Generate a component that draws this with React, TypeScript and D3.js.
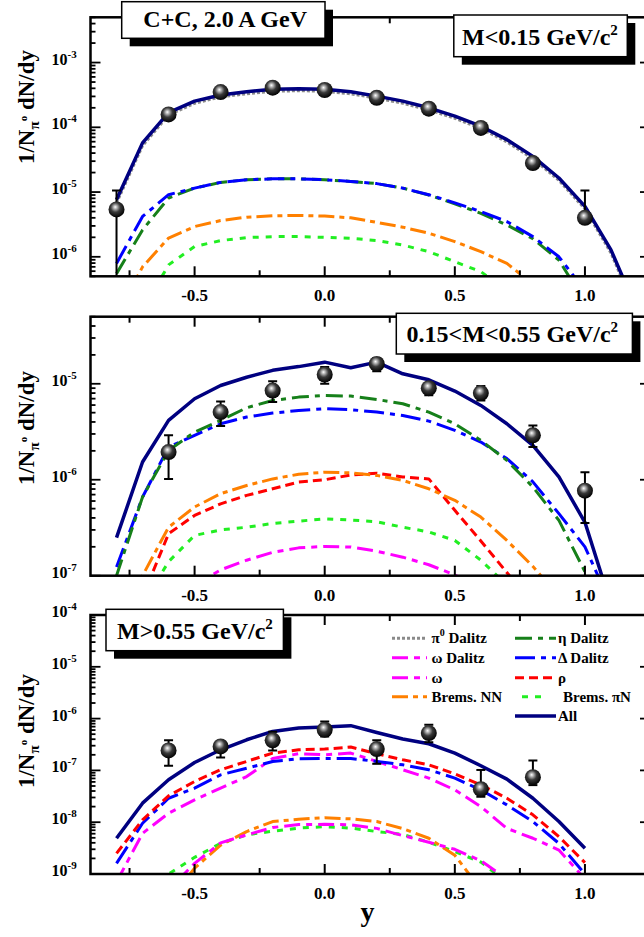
import React from 'react';
import * as d3 from 'd3';

const FONT = '"Liberation Serif","Times New Roman",Times,serif';

// rapidity grid for model curves
const yGrid = [-0.8, -0.7, -0.6, -0.5, -0.4, -0.3, -0.2, -0.1, 0.0, 0.1, 0.2, 0.3, 0.4, 0.5, 0.6, 0.7, 0.8, 0.9, 1.0, 1.1, 1.2];

// ---------- panel 1: M < 0.15 ----------
const p1All = [7.6e-6, 5.75e-5, 1.68e-4, 2.54e-4, 3.16e-4, 3.55e-4, 3.86e-4, 3.95e-4, 3.86e-4, 3.55e-4, 3.03e-4, 2.54e-4, 2.0e-4, 1.49e-4, 1.04e-4, 6.45e-5, 3.56e-5, 1.65e-5, 6.0e-6, 1.28e-6, 1.5e-7];
const p1Pi0 = [6.8e-6, 5.2e-5, 1.55e-4, 2.35e-4, 2.95e-4, 3.3e-4, 3.6e-4, 3.68e-4, 3.6e-4, 3.3e-4, 2.82e-4, 2.36e-4, 1.86e-4, 1.38e-4, 9.6e-5, 5.95e-5, 3.28e-5, 1.52e-5, 5.5e-6, 1.15e-6, 1.3e-7];
const p1Delta = [7.9e-7, 4.2e-6, 9.1e-6, 1.15e-5, 1.41e-5, 1.55e-5, 1.6e-5, 1.6e-5, 1.55e-5, 1.46e-5, 1.35e-5, 1.15e-5, 9.1e-6, 6.8e-6, 5.0e-6, 3.5e-6, 2.05e-6, 1.0e-6, 3.0e-7, null, null];
const p1Eta = [5.5e-7, 2.6e-6, 8.1e-6, 1.15e-5, 1.41e-5, 1.55e-5, 1.6e-5, 1.6e-5, 1.55e-5, 1.46e-5, 1.35e-5, 1.15e-5, 9.0e-6, 6.6e-6, 4.7e-6, 3.1e-6, 1.9e-6, 8.9e-7, 2.0e-7, null, null];
const p1BremsNN = [1.2e-7, 7.0e-7, 1.95e-6, 2.93e-6, 3.63e-6, 4.1e-6, 4.3e-6, 4.35e-6, 4.25e-6, 4.0e-6, 3.4e-6, 2.87e-6, 2.31e-6, 1.72e-6, 1.2e-6, 7.9e-7, 3.8e-7, null, null, null, null];
const p1BremsPiN = [null, 1.5e-7, 7.5e-7, 1.44e-6, 1.78e-6, 1.98e-6, 2.05e-6, 2.05e-6, 2.0e-6, 1.93e-6, 1.78e-6, 1.52e-6, 1.2e-6, 8.4e-7, 5.9e-7, 3.0e-7, null, null, null, null, null];
const p1DataY = [-0.8, -0.6, -0.4, -0.2, 0.0, 0.2, 0.4, 0.6, 0.8, 1.0];
const p1DataV = [5.4e-6, 1.58e-4, 3.5e-4, 4.1e-4, 3.77e-4, 2.86e-4, 1.94e-4, 9.8e-5, 2.8e-5, 4.0e-6];
const p1DataHi = [1.06e-5, 1.7e-4, 3.7e-4, 4.3e-4, 3.95e-4, 3.0e-4, 2.05e-4, 1.04e-4, 3.0e-5, 1.06e-5];
const p1DataLo = [1.0e-8, 1.48e-4, 3.3e-4, 3.9e-4, 3.6e-4, 2.72e-4, 1.84e-4, 9.2e-5, 2.6e-5, 3.6e-6];

// ---------- panel 2: 0.15 < M < 0.55 ----------
const p2All = [2.49e-7, 1.53e-6, 4.15e-6, 6.98e-6, 9.6e-6, 1.17e-5, 1.38e-5, 1.51e-5, 1.68e-5, 1.47e-5, 1.68e-5, 1.27e-5, 1.1e-5, 8.4e-6, 5.95e-6, 3.83e-6, 2.28e-6, 1.07e-6, 3.6e-7, 5.0e-8, null];
const p2Eta = [1.0e-7, 6.6e-7, 2.02e-6, 3.14e-6, 4.15e-6, 5.62e-6, 6.7e-6, 7.26e-6, 7.55e-6, 7.44e-6, 6.87e-6, 6.2e-6, 5.07e-6, 3.83e-6, 2.57e-6, 1.59e-6, 8.4e-7, 3.77e-7, 1.1e-7, 3.0e-8, null];
const p2Delta = [1.23e-7, 6.6e-7, 2.19e-6, 2.9e-6, 3.83e-6, 4.5e-6, 4.95e-6, 5.27e-6, 5.5e-6, 5.37e-6, 5.07e-6, 4.68e-6, 4.08e-6, 3.27e-6, 2.47e-6, 1.66e-6, 9.5e-7, 4.43e-7, 2.0e-7, 5.0e-8, null];
const p2BremsNN = [3.0e-8, 1.0e-7, 3.2e-7, 5.2e-7, 7.15e-7, 8.7e-7, 1.02e-6, 1.14e-6, 1.2e-6, 1.18e-6, 1.11e-6, 9.85e-7, 8.05e-7, 6.1e-7, 4.08e-7, 2.33e-7, 1.25e-7, 6.0e-8, null, null, null];
const p2Rho = [null, 6.0e-8, 2.74e-7, 4.25e-7, 5.6e-7, 6.87e-7, 8.05e-7, 9.45e-7, 1.0e-6, 1.12e-6, 1.17e-6, 1.07e-6, 1.02e-6, 4.8e-7, 2.3e-7, 1.08e-7, 5.0e-8, null, null, null, null];
const p2BremsPiN = [null, 5.0e-8, 1.4e-7, 2.63e-7, 3.0e-7, 3.2e-7, 3.5e-7, 3.7e-7, 3.92e-7, 3.8e-7, 3.65e-7, 3.2e-7, 2.86e-7, 2.33e-7, 1.45e-7, 8.0e-8, null, null, null, null, null];
const p2OmegaDal = [null, null, null, 8.0e-8, 1.15e-7, 1.45e-7, 1.75e-7, 1.95e-7, 2.02e-7, 1.99e-7, 1.8e-7, 1.56e-7, 1.3e-7, 1.02e-7, 7.0e-8, null, null, null, null, null, null];
const p2DataY = [-0.6, -0.4, -0.2, 0.0, 0.2, 0.4, 0.6, 0.8, 1.0];
const p2DataV = [1.94e-6, 5.07e-6, 8.5e-6, 1.25e-5, 1.61e-5, 9.0e-6, 8.0e-6, 2.9e-6, 7.7e-7];
const p2DataHi = [2.9e-6, 6.55e-6, 1.06e-5, 1.5e-5, 1.86e-5, 1.0e-5, 9.5e-6, 3.68e-6, 1.2e-6];
const p2DataLo = [1.02e-6, 3.62e-6, 6.44e-6, 1.0e-5, 1.35e-5, 7.6e-6, 6.7e-6, 2.2e-6, 3.55e-7];

// ---------- panel 3: M > 0.55 ----------
const p3All = [4.9e-9, 2.33e-8, 6.58e-8, 1.42e-7, 2.5e-7, 3.9e-7, 5.66e-7, 6.57e-7, 6.88e-7, 7.3e-7, 5.4e-7, 4.03e-7, 3.27e-7, 2.16e-7, 1.23e-7, 6.77e-8, 2.9e-8, 1.03e-8, 3.15e-9, null, null];
const p3Rho = [2.5e-9, 1.11e-8, 3.23e-8, 6.1e-8, 1.03e-7, 1.49e-7, 2.16e-7, 2.5e-7, 2.58e-7, 2.82e-7, 2.1e-7, 1.6e-7, 1.28e-7, 8.6e-8, 5.26e-8, 2.9e-8, 1.39e-8, 5.27e-9, 1.66e-9, null, null];
const p3Delta = [1.6e-9, 9.55e-9, 2.9e-8, 4.54e-8, 8.2e-8, 1.1e-7, 1.49e-7, 1.67e-7, 1.7e-7, 1.7e-7, 1.49e-7, 1.28e-7, 1.03e-7, 7.1e-8, 4.2e-8, 2.16e-8, 1.03e-8, 3.9e-9, 1.0e-9, null, null];
const p3Omega = [7.0e-10, 6.1e-9, 1.49e-8, 2.7e-8, 4.54e-8, 7.6e-8, 1.7e-7, 2.1e-7, 2.0e-7, 2.16e-7, 1.49e-7, 1.03e-7, 7.1e-8, 4.2e-8, 2.0e-8, 7.6e-9, 4.9e-9, 2.9e-9, 8.0e-10, null, null];
const p3OmegaDal = [null, null, 5.0e-10, 1.6e-9, 4.0e-9, 5.7e-9, 7.9e-9, 9.0e-9, 9.1e-9, 8.9e-9, 7.6e-9, 5.5e-9, 4.1e-9, 3.0e-9, 1.8e-9, 8.0e-10, null, null, null, null, null];
const p3BremsNN = [null, null, 3.0e-10, 1.3e-9, 3.6e-9, 6.6e-9, 1.03e-8, 1.14e-8, 1.22e-8, 1.16e-8, 1.03e-8, 7.5e-9, 4.9e-9, 2.3e-9, 5.0e-10, null, null, null, null, null, null];
const p3BremsPiN = [null, 3.0e-10, 1.0e-9, 2.1e-9, 3.9e-9, 5.7e-9, 6.7e-9, 7.7e-9, 8.2e-9, 7.7e-9, 6.6e-9, 5.8e-9, 4.1e-9, 2.7e-9, 1.7e-9, 7.0e-10, null, null, null, null, null];
const p3DataY = [-0.6, -0.4, -0.2, 0.0, 0.2, 0.4, 0.6, 0.8];
const p3DataV = [2.43e-7, 2.9e-7, 3.8e-7, 6.1e-7, 2.58e-7, 5.26e-7, 4.35e-8, 7.4e-8];
const p3DataHi = [3.8e-7, 3.7e-7, 5.6e-7, 8.8e-7, 3.8e-7, 7.6e-7, 1.02e-7, 1.55e-7];
const p3DataLo = [1.23e-7, 1.78e-7, 2.43e-7, 4.5e-7, 1.34e-7, 3.5e-7, 3.1e-8, 5.2e-8];

// axis ticks
const xTickValues = [-0.75, -0.5, -0.25, 0.0, 0.25, 0.5, 0.75, 1.0];
const xTickLabels = ['-0.5', '0.0', '0.5', '1.0'];
const xLabelValues = [-0.5, 0.0, 0.5, 1.0];
const p1Decades = [-6, -5, -4, -3];
const p2Decades = [-7, -6, -5];
const p3Decades = [-9, -8, -7, -6, -5, -4];

const STYLES: Record<string, { color: string; dash: string | null; width: number }> = {
  pi0: { color: '#8a8a8a', dash: '3 2', width: 3 },
  eta: { color: '#16801a', dash: '17 6 5 6', width: 3 },
  omegaDal: { color: '#ff00ff', dash: '16 6 6 6', width: 3 },
  delta: { color: '#0000ff', dash: '20 6 5 6', width: 3 },
  omega: { color: '#ff00ff', dash: '16 6 6 6', width: 3 },
  rho: { color: '#ff0000', dash: '9 5', width: 3 },
  bremsNN: { color: '#ff8000', dash: '16 5 5 5', width: 3 },
  bremsPiN: { color: '#22ee22', dash: '6 7', width: 3 },
  all: { color: '#000080', dash: null, width: 3.5 },
};

const X0 = 90.5;
const X1 = 650;
const H = 259;

type SeriesDef = { key: string; values: (number | null)[] };
type PanelDef = {
  id: string;
  top: number;
  domain: [number, number];
  decades: number[];
  series: SeriesDef[];
  dataY: number[];
  dataV: number[];
  dataHi: number[];
  dataLo: number[];
  labelCy: number;
};

const panels: PanelDef[] = [
  {
    id: 'p1', top: 17.3, domain: [5e-7, 5e-3], decades: p1Decades, labelCy: 107,
    series: [
      { key: 'bremsPiN', values: p1BremsPiN },
      { key: 'bremsNN', values: p1BremsNN },
      { key: 'eta', values: p1Eta },
      { key: 'delta', values: p1Delta },
      { key: 'pi0', values: p1Pi0 },
      { key: 'all', values: p1All },
    ],
    dataY: p1DataY, dataV: p1DataV, dataHi: p1DataHi, dataLo: p1DataLo,
  },
  {
    id: 'p2', top: 316.7, domain: [1e-7, 5e-5], decades: p2Decades, labelCy: 428,
    series: [
      { key: 'omegaDal', values: p2OmegaDal },
      { key: 'bremsPiN', values: p2BremsPiN },
      { key: 'rho', values: p2Rho },
      { key: 'bremsNN', values: p2BremsNN },
      { key: 'delta', values: p2Delta },
      { key: 'eta', values: p2Eta },
      { key: 'all', values: p2All },
    ],
    dataY: p2DataY, dataV: p2DataV, dataHi: p2DataHi, dataLo: p2DataLo,
  },
  {
    id: 'p3', top: 615, domain: [1e-9, 1e-4], decades: p3Decades, labelCy: 731,
    series: [
      { key: 'bremsPiN', values: p3BremsPiN },
      { key: 'bremsNN', values: p3BremsNN },
      { key: 'omegaDal', values: p3OmegaDal },
      { key: 'omega', values: p3Omega },
      { key: 'delta', values: p3Delta },
      { key: 'rho', values: p3Rho },
      { key: 'all', values: p3All },
    ],
    dataY: p3DataY, dataV: p3DataV, dataHi: p3DataHi, dataLo: p3DataLo,
  },
];

const xScale = d3.scaleLinear().domain([-0.9, 1.25]).range([X0, X1]);

function Panel({ p }: { p: PanelDef }) {
  const y = d3.scaleLog().domain(p.domain).range([p.top + H, p.top]);
  const bottom = p.top + H;
  const line = d3
    .line<[number, number | null]>()
    .defined((d) => d[1] != null)
    .x((d) => xScale(d[0]))
    .y((d) => y(d[1] as number));

  const minorTicks: number[] = [];
  const lo = Math.floor(Math.log10(p.domain[0]));
  const hi = Math.ceil(Math.log10(p.domain[1]));
  for (let e = lo; e <= hi; e++) {
    for (let k = 1; k <= 9; k++) {
      const v = k * Math.pow(10, e);
      if (v >= p.domain[0] * 0.999 && v <= p.domain[1] * 1.001) minorTicks.push(v);
    }
  }

  return (
    <g>
      <defs>
        <clipPath id={`clip-${p.id}`}>
          <rect x={X0} y={p.top} width={X1 - X0} height={H} />
        </clipPath>
      </defs>
      <g clipPath={`url(#clip-${p.id})`}>
        {p.series.map((s) => {
          const st = STYLES[s.key];
          const pts = yGrid.map((g, i) => [g, s.values[i]] as [number, number | null]);
          return (
            <path
              key={s.key}
              d={line(pts) || ''}
              fill="none"
              stroke={st.color}
              strokeWidth={st.width}
              strokeDasharray={st.dash || undefined}
              strokeLinejoin="round"
            />
          );
        })}
        {p.dataY.map((g, i) => {
          const cx = xScale(g);
          return (
            <g key={i}>
              <line x1={cx} x2={cx} y1={y(p.dataHi[i])} y2={y(p.dataLo[i])} stroke="#000" strokeWidth={2} />
              <line x1={cx - 4.5} x2={cx + 4.5} y1={y(p.dataHi[i])} y2={y(p.dataHi[i])} stroke="#000" strokeWidth={2} />
              <line x1={cx - 4.5} x2={cx + 4.5} y1={y(p.dataLo[i])} y2={y(p.dataLo[i])} stroke="#000" strokeWidth={2} />
              <circle cx={cx} cy={y(p.dataV[i])} r={8} fill="url(#ball)" />
            </g>
          );
        })}
      </g>
      {/* frame */}
      <rect x={X0} y={p.top} width={X1 - X0} height={H} fill="none" stroke="#000" strokeWidth={2.5} />
      {/* x ticks */}
      {xTickValues.map((t) => {
        const major = Math.abs(t * 2 - Math.round(t * 2)) < 1e-6;
        const len = major ? 10 : 6;
        const xx = xScale(t);
        return (
          <g key={t}>
            <line x1={xx} x2={xx} y1={bottom} y2={bottom - len} stroke="#000" strokeWidth={2} />
            <line x1={xx} x2={xx} y1={p.top} y2={p.top + len} stroke="#000" strokeWidth={2} />
          </g>
        );
      })}
      {xLabelValues.map((t, i) => (
        <text key={t} x={xScale(t)} y={bottom + 25} textAnchor="middle" fontFamily={FONT} fontWeight="bold" fontSize={17}>
          {xTickLabels[i]}
        </text>
      ))}
      {/* y ticks */}
      {minorTicks.map((v, i) => {
        const isMajor = Math.abs(Math.log10(v) - Math.round(Math.log10(v))) < 1e-6;
        const yy = y(v);
        return (
          <g key={i}>
            <line x1={X0} x2={X0 + (isMajor ? 10 : 5)} y1={yy} y2={yy} stroke="#000" strokeWidth={1.8} />
            {isMajor && <line x1={X1} x2={X1 - 10} y1={yy} y2={yy} stroke="#000" strokeWidth={1.8} />}
          </g>
        );
      })}
      {p.decades.map((e) => (
        <text key={e} x={51.5} y={y(Math.pow(10, e)) + 2} fontFamily={FONT} fontWeight="bold" fontSize={16}>
          10
          <tspan fontSize={11} dy={-7}>{String(e)}</tspan>
        </text>
      ))}
      {/* y axis title */}
      <text
        transform={`translate(33.5,${p.labelCy}) rotate(-90)`}
        textAnchor="middle"
        fontFamily={FONT}
        fontWeight="bold"
        fontSize={23}
      >
        1/N
        <tspan fontSize={15} dy={5}>π</tspan>
        <tspan fontSize={11} dy={-12}>o</tspan>
        <tspan fontSize={23} dy={7}> dN/dy</tspan>
      </text>
    </g>
  );
}

function Box({ x, y, w, h, tx, ty, children }: any) {
  return (
    <g>
      <rect x={x + 8} y={y + 8} width={w} height={h} fill="#000" />
      <rect x={x} y={y} width={w} height={h} fill="#fff" stroke="#000" strokeWidth={1.5} />
      <text x={tx} y={ty} fontFamily={FONT} fontWeight="bold" fontSize={24}>
        {children}
      </text>
    </g>
  );
}

const legendItems = [
  { key: 'pi0', label: 'pi0', col: 0, row: 0 },
  { key: 'eta', label: 'η Dalitz', col: 1, row: 0 },
  { key: 'omegaDal', label: 'ω Dalitz', col: 0, row: 1 },
  { key: 'delta', label: 'Δ Dalitz', col: 1, row: 1 },
  { key: 'omega', label: 'ω', col: 0, row: 2 },
  { key: 'rho', label: 'ρ', col: 1, row: 2 },
  { key: 'bremsNN', label: 'Brems. NN', col: 0, row: 3 },
  { key: 'bremsPiN', label: 'Brems. πN', col: 1, row: 3 },
  { key: 'all', label: 'All', col: 1, row: 4 },
];
const legendRowY = [638.3, 657.7, 677.7, 696.7, 716];

function Legend() {
  return (
    <g>
      {legendItems.map((it) => {
        const st = STYLES[it.key];
        const yy = legendRowY[it.row];
        const lx1 = it.col === 0 ? 392 : it.key === 'bremsPiN' ? 522 : 515;
        const lx2 = it.col === 0 ? 427 : it.key === 'bremsPiN' ? 547 : 556;
        const tx = it.col === 0 ? 431.5 : it.key === 'bremsPiN' ? 563 : 558;
        return (
          <g key={it.key}>
            <line x1={lx1} x2={lx2} y1={yy} y2={yy} stroke={st.color} strokeWidth={st.width} strokeDasharray={st.dash || undefined} />
            <text x={tx} y={yy + 5} fontFamily={FONT} fontWeight="bold" fontSize={15}>
              {it.label === 'pi0' ? (
                <>
                  π<tspan fontSize={10} dy={-7}>0</tspan>
                  <tspan dy={7}> Dalitz</tspan>
                </>
              ) : (
                it.label
              )}
            </text>
          </g>
        );
      })}
    </g>
  );
}

export default function App() {
  return (
    <svg
      width={644}
      height={937}
      viewBox="0 0 644 937"
      style={{ position: 'absolute', left: 0, top: 0, background: '#fff' }}
    >
      <defs>
        <radialGradient id="ball" cx="45%" cy="40%" r="60%" fx="42%" fy="35%">
          <stop offset="0%" stopColor="#ffffff" />
          <stop offset="18%" stopColor="#b8b8b8" />
          <stop offset="50%" stopColor="#3a3a3a" />
          <stop offset="100%" stopColor="#000000" />
        </radialGradient>
      </defs>
      <rect x={0} y={0} width={644} height={937} fill="#fff" />
      {panels.map((p) => (
        <Panel key={p.id} p={p} />
      ))}
      <Box x={121.7} y={1.7} w={203.3} h={36.6} tx={143.3} ty={27}>
        C+C, 2.0 A GeV
      </Box>
      <Box x={453.8} y={15} w={173.5} h={41.7} tx={462} ty={45}>
        M&lt;0.15 GeV/c<tspan fontSize={15} dy={-10}>2</tspan>
      </Box>
      <Box x={396.3} y={313.3} w={236.1} h={40.7} tx={406.6} ty={341.7}>
        0.15&lt;M&lt;0.55 GeV/c<tspan fontSize={15} dy={-10}>2</tspan>
      </Box>
      <Box x={106} y={609.3} w={177.4} h={41.4} tx={117} ty={639.3}>
        M&gt;0.55 GeV/c<tspan fontSize={15} dy={-10}>2</tspan>
      </Box>
      <Legend />
      <text x={367.5} y={921} textAnchor="middle" fontFamily={FONT} fontWeight="bold" fontSize={28}>
        y
      </text>
    </svg>
  );
}
